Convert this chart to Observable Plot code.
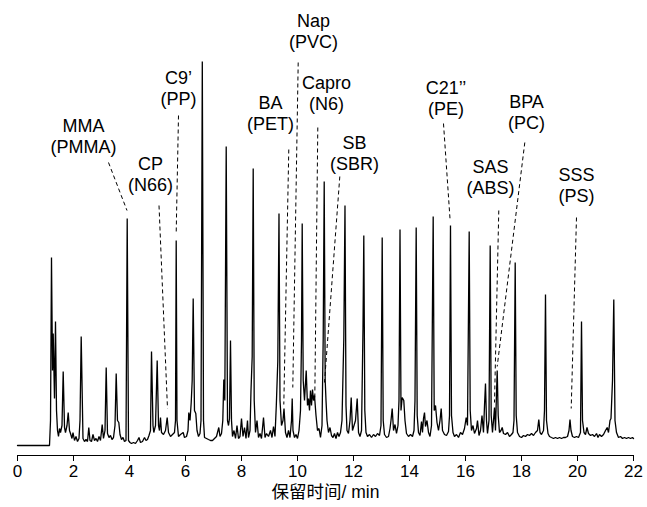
<!DOCTYPE html>
<html>
<head>
<meta charset="utf-8">
<script src="https://cdn.jsdelivr.net/npm/d3@7"></script>
<script src="https://cdn.jsdelivr.net/npm/@observablehq/plot@0.6"></script>
<style>
  html, body { margin: 0; padding: 0; background: #fff; }
  #chart { width: 647px; height: 507px; }
</style>
</head>
<body>
<div id="chart"></div>
<script>
// Retention time (min) of each vertex of the chromatogram trace
const times = [
  0, 1.143, 1.179, 1.214, 1.25, 1.275, 1.321, 1.357, 1.393, 1.429, 1.464, 1.5, 1.536, 1.589, 1.632, 1.679, 1.714, 1.768, 1.811, 1.857,
  1.893, 1.946, 1.982, 2.036, 2.089, 2.143, 2.196, 2.232, 2.275, 2.339, 2.393, 2.446, 2.5, 2.546, 2.589, 2.643, 2.696, 2.75, 2.804, 2.857,
  2.911, 2.964, 3.025, 3.071, 3.125, 3.168, 3.214, 3.268, 3.321, 3.375, 3.429, 3.482, 3.525, 3.571, 3.618, 3.661, 3.714, 3.768, 3.821, 3.875,
  3.918, 3.964, 4.018, 4.071, 4.143, 4.214, 4.286, 4.339, 4.393, 4.464, 4.536, 4.589, 4.643, 4.696, 4.75, 4.786, 4.839, 4.868, 4.929, 4.989,
  5.036, 5.071, 5.107, 5.143, 5.214, 5.286, 5.346, 5.393, 5.464, 5.536, 5.607, 5.643, 5.668, 5.696, 5.75, 5.821, 5.918, 5.964, 6.036, 6.089,
  6.118, 6.161, 6.204, 6.239, 6.275, 6.321, 6.368, 6.411, 6.464, 6.518, 6.554, 6.6, 6.643, 6.679, 6.75, 6.821, 6.893, 6.964, 7.036, 7.107,
  7.143, 7.189, 7.232, 7.286, 7.332, 7.368, 7.404, 7.454, 7.5, 7.536, 7.571, 7.607, 7.643, 7.679, 7.732, 7.786, 7.839, 7.893, 7.946, 8,
  8.054, 8.107, 8.161, 8.214, 8.25, 8.304, 8.339, 8.382, 8.418, 8.454, 8.5, 8.554, 8.607, 8.661, 8.714, 8.786, 8.839, 8.893, 8.964, 9.036,
  9.089, 9.143, 9.196, 9.243, 9.296, 9.339, 9.375, 9.429, 9.482, 9.518, 9.571, 9.625, 9.679, 9.732, 9.786, 9.811, 9.839, 9.893, 9.946, 10,
  10.054, 10.107, 10.143, 10.168, 10.204, 10.25, 10.311, 10.357, 10.393, 10.429, 10.464, 10.5, 10.536, 10.571, 10.607, 10.661, 10.714, 10.768, 10.821, 10.875,
  10.918, 10.954, 10.989, 11.018, 11.054, 11.107, 11.161, 11.214, 11.268, 11.321, 11.375, 11.429, 11.482, 11.536, 11.589, 11.654, 11.696, 11.732, 11.768, 11.821,
  11.875, 11.918, 11.964, 12.018, 12.071, 12.132, 12.179, 12.232, 12.286, 12.339, 12.368, 12.404, 12.446, 12.5, 12.571, 12.643, 12.714, 12.786, 12.857, 12.929,
  12.982, 13.025, 13.061, 13.107, 13.179, 13.25, 13.304, 13.339, 13.382, 13.429, 13.482, 13.536, 13.589, 13.625, 13.661, 13.696, 13.739, 13.796, 13.839, 13.893,
  13.964, 14.036, 14.107, 14.161, 14.196, 14.239, 14.275, 14.321, 14.375, 14.429, 14.464, 14.5, 14.536, 14.571, 14.625, 14.679, 14.732, 14.786, 14.846, 14.882,
  14.929, 14.982, 15.036, 15.089, 15.132, 15.179, 15.25, 15.321, 15.393, 15.429, 15.464, 15.5, 15.554, 15.607, 15.679, 15.75, 15.821, 15.893, 15.964, 16.025,
  16.071, 16.132, 16.168, 16.214, 16.268, 16.321, 16.393, 16.429, 16.482, 16.536, 16.589, 16.643, 16.679, 16.714, 16.75, 16.786, 16.839, 16.882, 16.918, 16.964,
  17, 17.036, 17.071, 17.1, 17.132, 17.168, 17.214, 17.268, 17.311, 17.357, 17.429, 17.5, 17.571, 17.643, 17.696, 17.732, 17.775, 17.811, 17.857, 17.929,
  18, 18.071, 18.143, 18.214, 18.286, 18.357, 18.429, 18.5, 18.571, 18.618, 18.661, 18.714, 18.786, 18.821, 18.857, 18.893, 18.946, 19, 19.071, 19.143,
  19.214, 19.286, 19.357, 19.429, 19.5, 19.571, 19.643, 19.696, 19.732, 19.768, 19.821, 19.893, 19.964, 20.036, 20.107, 20.143, 20.179, 20.232, 20.286, 20.339,
  20.393, 20.464, 20.536, 20.607, 20.679, 20.732, 20.786, 20.857, 20.929, 21, 21.061, 21.107, 21.161, 21.196, 21.25, 21.296, 21.339, 21.393, 21.464, 21.536,
  21.607, 21.679, 21.75, 21.821, 21.893, 21.964, 22
];
// Detector response (arbitrary units) at each vertex
const intensities = [
  10, 10, 35, 198, 85, 122, 57, 134, 45, 25, 19, 27, 23, 30, 84, 28, 23, 30, 43, 25,
  22, 17, 23, 15, 19, 14, 17, 35, 119, 17, 14, 16, 14, 28, 15, 14, 21, 15, 17, 14,
  19, 15, 31, 17, 25, 88, 22, 18, 20, 16, 18, 30, 82, 35, 33, 21, 16, 18, 14, 15,
  237, 15, 13, 12, 13, 12, 15, 18, 13, 14, 18, 15, 16, 20, 25, 104, 30, 23, 30, 95,
  30, 25, 38, 23, 21, 25, 38, 23, 19, 21, 23, 35, 215, 35, 19, 21, 23, 18, 19, 25,
  43, 35, 53, 75, 157, 45, 42, 25, 19, 22, 35, 394, 35, 18, 17, 16, 15, 15, 17, 19,
  23, 28, 19, 22, 35, 76, 55, 309, 35, 30, 37, 115, 35, 19, 25, 17, 30, 17, 19, 37,
  19, 28, 17, 35, 18, 25, 65, 99, 287, 55, 23, 35, 18, 22, 17, 38, 18, 22, 19, 25,
  18, 29, 19, 50, 94, 242, 55, 30, 35, 47, 23, 18, 25, 18, 35, 57, 25, 18, 21, 17,
  25, 45, 115, 232, 75, 55, 85, 50, 57, 45, 65, 50, 66, 55, 60, 40, 25, 27, 18, 30,
  117, 274, 75, 55, 35, 23, 28, 20, 18, 22, 17, 23, 19, 23, 35, 117, 250, 50, 25, 22,
  35, 58, 25, 30, 35, 57, 23, 19, 25, 127, 220, 45, 23, 19, 21, 18, 21, 19, 22, 20,
  30, 218, 35, 21, 18, 19, 27, 35, 47, 25, 31, 22, 30, 55, 226, 45, 58, 55, 35, 22,
  19, 21, 19, 25, 55, 228, 40, 23, 20, 34, 23, 37, 43, 29, 35, 23, 19, 30, 239, 45,
  50, 33, 25, 35, 47, 25, 21, 20, 24, 40, 230, 40, 23, 19, 21, 18, 23, 21, 27, 38,
  30, 224, 45, 25, 30, 22, 27, 35, 20, 25, 40, 23, 50, 72, 35, 22, 35, 210, 40, 23,
  35, 48, 25, 55, 85, 40, 23, 25, 28, 22, 21, 23, 19, 21, 23, 35, 193, 40, 23, 19,
  18, 20, 19, 21, 20, 22, 20, 23, 25, 36, 23, 21, 25, 45, 161, 35, 22, 19, 18, 17,
  18, 17, 18, 17, 18, 18, 19, 25, 36, 25, 19, 18, 19, 18, 23, 134, 35, 23, 21, 28,
  22, 20, 21, 19, 22, 18, 21, 19, 21, 25, 28, 23, 35, 37, 75, 156, 35, 23, 18, 19,
  17, 18, 17, 18, 17, 18, 17
];

// Peak annotations: compound (polymer)
const labelNames = ["MMA\n(PMMA)", "CP\n(N66)", "C9’\n(PP)", "BA\n(PET)", "Nap\n(PVC)", "Capro\n(N6)",
                    "SB\n(SBR)", "C21’’\n(PE)", "SAS\n(ABS)", "BPA\n(PC)", "SSS\n(PS)"];
const labelTime = [2.357, 4.75, 5.75, 9.036, 10.571, 11.036, 12.036, 15.304, 16.893, 18.179, 19.964];
const labelLevel = [320, 282, 368, 343, 425, 363, 303, 358, 279, 344, 271];
// Dashed leader lines: from label (time1, level1) to peak (time2, level2)
const leaderTime1 = [3.25, 5.054, 5.75, 9.689, 10.025, 10.725, 11.511, 15.214, 17.189, 18.118, 19.964];
const leaderLevel1 = [293, 250, 340, 306, 393, 328, 279, 332, 245, 313, 238];
const leaderTime2 = [3.911, 5.357, 5.668, 9.511, 9.832, 10.618, 10.964, 15.446, 17.036, 17.132, 19.775];
const leaderLevel2 = [245, 47, 223, 51, 68, 58, 73, 237, 53, 89, 47];

const xTicks = [0, 2, 4, 6, 8, 10, 12, 14, 16, 18, 20, 22];
const xLabel = "保留时间/ min";

const trace = times.map((t, i) => ({t, v: intensities[i]}));
const labels = labelNames.map((name, i) => ({name, t: labelTime[i], v: labelLevel[i]}));
const leaders = leaderTime1.map((t1, i) => ({t1, v1: leaderLevel1[i], t2: leaderTime2[i], v2: leaderLevel2[i]}));

const font = '"Liberation Sans", Arial, "Noto Sans CJK SC", sans-serif';

const chart = Plot.plot({
  width: 647,
  height: 507,
  marginLeft: 17,
  marginRight: 14,
  marginTop: 55,
  marginBottom: 52,
  style: {fontFamily: font, fontSize: "17px", color: "#000", background: "#fff", overflow: "visible"},
  x: {domain: [0, 22], ticks: xTicks, tickSize: 6, tickPadding: 3, line: true, label: null},
  y: {domain: [0, 400], axis: null},
  marks: [
    Plot.line(trace, {x: "t", y: "v", stroke: "#000", strokeWidth: 1.3, strokeLinejoin: "miter"}),
    Plot.link(leaders, {x1: "t1", y1: "v1", x2: "t2", y2: "v2", stroke: "#000", strokeWidth: 1, strokeDasharray: "4,3"}),
    Plot.text(labels, {x: "t", y: "v", text: "name", fontSize: 18, lineHeight: 1.2, fill: "#000", fontFamily: font}),
    Plot.text([xLabel], {frameAnchor: "bottom", dy: 42, text: d => d, fontSize: 17.5, fill: "#000", fontFamily: font})
  ]
});
document.getElementById("chart").appendChild(chart);
</script>
</body>
</html>
